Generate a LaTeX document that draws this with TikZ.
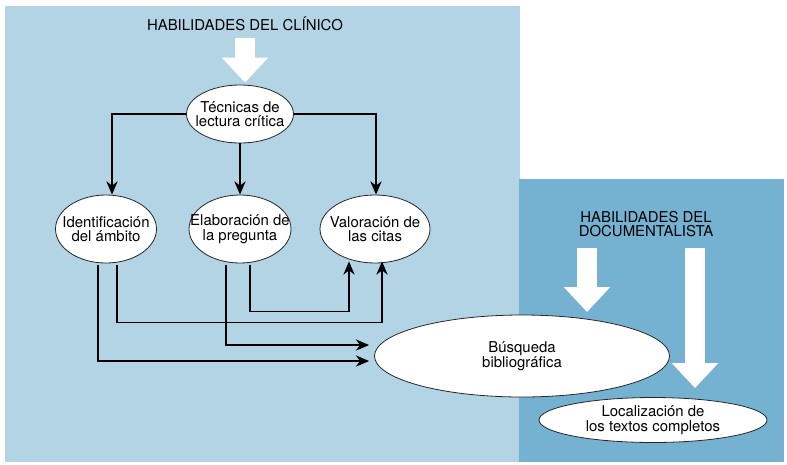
\documentclass[tikz,border=0pt]{standalone}
\usepackage{fontspec}
\setmainfont{TeX Gyre Heros}
\usetikzlibrary{arrows.meta,positioning,calc,shapes.geometric}
\definecolor{clinico}{HTML}{B3D4E5}
\definecolor{docu}{HTML}{75B1D0}

\begin{document}
\begin{tikzpicture}[x=0.75pt,y=-0.75pt,
    font=\fontsize{11.2}{10.8}\selectfont,
    bubble/.style 2 args={ellipse,draw=black!85,fill=white,line width=0.6pt,
      minimum width=#1,minimum height=#2,inner sep=0pt},
    link/.style={line width=0.85pt,-{Stealth[length=10pt,width=8.5pt]}},
    bigarrow/.style={draw=white,line width=15pt,
      -{Triangle[length=18.75pt,width=33.75pt]}}]
  \useasboundingbox (0,0) rectangle (787,464);
  % the two fields
  \fill[clinico] (5,6) rectangle (520,462);
  \fill[docu] (519,179) rectangle (784,462);
  \node (clin) at (245,24) {HABILIDADES DEL CLÍNICO};
  \node[align=center] (doc) at (646,224) {HABILIDADES DEL\\DOCUMENTALISTA};
  % ellipses
  \node[bubble={80.25pt}{43.5pt},label={[align=center]center:Técnicas de\\lectura crítica}] (tecnicas) at (240,114) {};
  \node[bubble={75.75pt}{51pt},label={[align=center]center:Identificación\\del ámbito}] (ambito) at (106,229) {};
  \node[bubble={76.5pt}{51pt},label={[align=center]center:Elaboración de\\la pregunta}] (pregunta) at (240,229) {};
  \node[bubble={82.5pt}{51pt},label={[align=center]center:Valoración de\\las citas}] (citas) at (375,229) {};
  \node[bubble={221.25pt}{61.5pt},label={[align=center]center:Búsqueda\\bibliográfica}] (busqueda) at (522,356) {};
  \node[bubble={171pt}{33.75pt},label={[align=center]center:Localización de\\los textos completos}] (textos) at (653,420) {};
  % white block arrows
  \coordinate (c1) at (245,38);
  \coordinate (c2) at (587,248);
  \coordinate (c3) at (695,248);
  \draw[bigarrow] (c1) -- ($(tecnicas.north)+(5,-2)$);
  \draw[bigarrow] (c2) -- ($(c2)+(0,64)$);
  \draw[bigarrow] (c3) -- ($(textos.north)+(42,-9)$);
  % connectors
  \draw[link] (tecnicas.west) -| ($(ambito.north)+(6,0)$);
  \draw[link] (tecnicas.south) -- (pregunta.north);
  \draw[link] (tecnicas.east) -| ($(citas.north)+(1,0)$);
  \draw[link] ($(ambito.south)+(-8,2)$) |- ($(busqueda.west)+(-5,5)$);
  \draw[link] ($(ambito.south)+(11,2)$) -- ++(0,57) -| ($(citas.south)+(7,-2)$);
  \draw[link] ($(pregunta.south)+(-14,2)$) |- ($(busqueda.west)+(-5,-11)$);
  \draw[link] ($(pregunta.south)+(10,2)$) -- ++(0,46) -| ($(citas.south)+(-26,-2)$);
\end{tikzpicture}
\end{document}
